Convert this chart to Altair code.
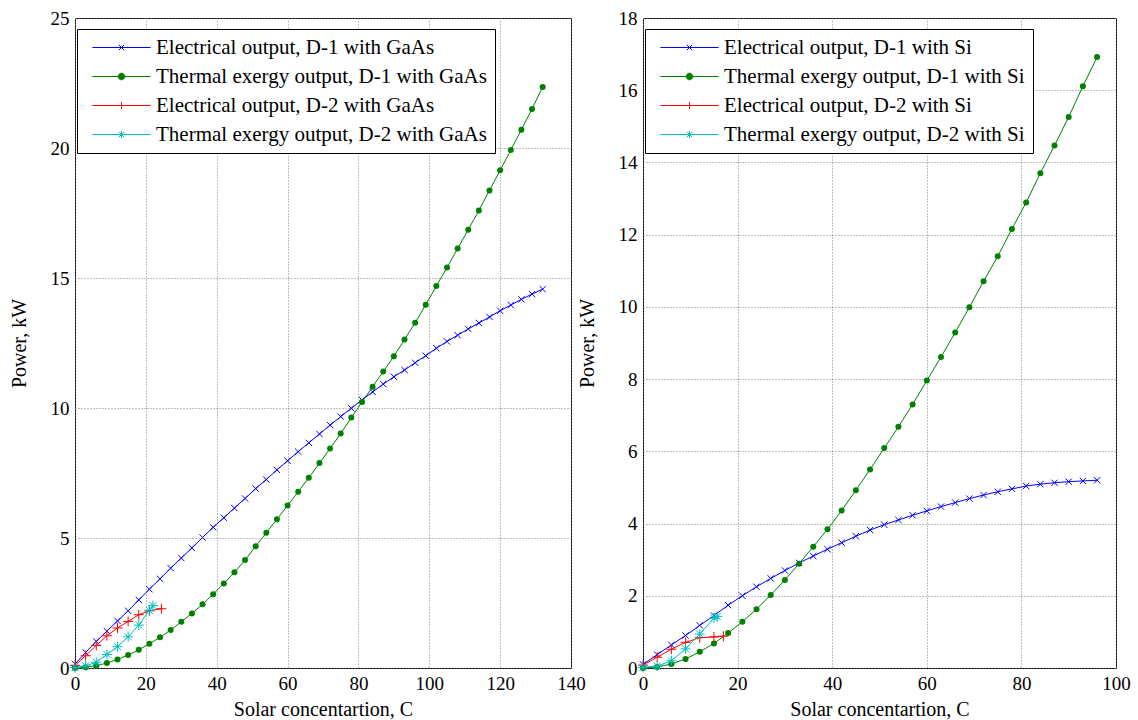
import altair as alt
import pandas as pd

FONT = "Liberation Serif"

# ---------------- data: GaAs panel ----------------
C_D1_GAAS = [0, 3, 6, 9, 12, 15, 18, 21, 24, 27, 30, 33, 36, 39, 42, 45, 48, 51, 54, 57,
             60, 63, 66, 69, 72, 75, 78, 81, 84, 87, 90, 93, 96, 99, 102, 105, 108, 111,
             114, 117, 120, 123, 126, 129, 132]
ELEC_D1_GAAS = [0.15, 0.6, 1.02, 1.42, 1.81, 2.2, 2.62, 3.03, 3.43, 3.84, 4.23, 4.62, 5.02,
                5.41, 5.78, 6.15, 6.52, 6.9, 7.25, 7.62, 7.97, 8.32, 8.66, 9.0, 9.34, 9.67,
                9.99, 10.31, 10.62, 10.92, 11.2, 11.46, 11.74, 12.01, 12.3, 12.56, 12.8,
                13.04, 13.27, 13.5, 13.74, 13.96, 14.18, 14.38, 14.57]
THERM_D1_GAAS = [0.0, 0.03, 0.09, 0.19, 0.33, 0.5, 0.7, 0.93, 1.18, 1.46, 1.78, 2.1, 2.45,
                 2.84, 3.25, 3.68, 4.15, 4.68, 5.2, 5.72, 6.25, 6.78, 7.32, 7.88, 8.44, 9.02,
                 9.63, 10.23, 10.82, 11.4, 11.99, 12.63, 13.28, 13.97, 14.69, 15.4, 16.13,
                 16.86, 17.6, 18.37, 19.14, 19.92, 20.7, 21.5, 22.35]
C_D2_GAAS_ELEC = [0, 3, 6, 9, 12, 15, 18, 21, 24.4]
ELEC_D2_GAAS = [0.1, 0.47, 0.87, 1.24, 1.54, 1.79, 2.05, 2.2, 2.28]
C_D2_GAAS_THERM = [0, 3, 6, 9, 12, 15, 18, 21, 22]
THERM_D2_GAAS = [0.02, 0.08, 0.22, 0.52, 0.82, 1.2, 1.65, 2.22, 2.4]

LABELS_GAAS = ["Electrical output, D-1 with GaAs",
               "Thermal exergy output, D-1 with GaAs",
               "Electrical output, D-2 with GaAs",
               "Thermal exergy output, D-2 with GaAs"]
X_TICKS_GAAS = [0, 20, 40, 60, 80, 100, 120, 140]
Y_TICKS_GAAS = [0, 5, 10, 15, 20, 25]

# ---------------- data: Si panel ----------------
C_D1_SI = [0, 3, 6, 9, 12, 15, 18, 21, 24, 27, 30, 33, 36, 39, 42, 45, 48, 51, 54, 57,
           60, 63, 66, 69, 72, 75, 78, 81, 84, 87, 90, 93, 96]
ELEC_D1_SI = [0.1, 0.37, 0.64, 0.9, 1.18, 1.45, 1.74, 2.0, 2.25, 2.48, 2.7, 2.91, 3.1,
              3.29, 3.47, 3.65, 3.82, 3.97, 4.1, 4.23, 4.35, 4.47, 4.58, 4.69, 4.79, 4.88,
              4.96, 5.04, 5.09, 5.13, 5.16, 5.18, 5.2]
THERM_D1_SI = [0.0, 0.03, 0.11, 0.25, 0.45, 0.68, 0.97, 1.28, 1.63, 2.02, 2.44, 2.89, 3.36,
               3.84, 4.36, 4.92, 5.5, 6.09, 6.68, 7.3, 7.96, 8.61, 9.29, 9.99, 10.71, 11.4,
               12.16, 12.89, 13.7, 14.47, 15.26, 16.11, 16.92]
C_D2_SI_ELEC = [0, 3, 6, 9, 12, 15, 17]
ELEC_D2_SI = [0.08, 0.3, 0.52, 0.71, 0.84, 0.86, 0.88]
C_D2_SI_THERM = [0, 3, 6, 9, 12, 15, 15.7]
THERM_D2_SI = [0.02, 0.05, 0.2, 0.53, 0.94, 1.38, 1.43]

LABELS_SI = ["Electrical output, D-1 with Si",
             "Thermal exergy output, D-1 with Si",
             "Electrical output, D-2 with Si",
             "Thermal exergy output, D-2 with Si"]
X_TICKS_SI = [0, 20, 40, 60, 80, 100]
Y_TICKS_SI = [0, 2, 4, 6, 8, 10, 12, 14, 16, 18]

# ---------------- styles ----------------
COLORS = ["#0000ff", "#008000", "#ff0000", "#00bfbf"]
X_PATH = "M-1,-1L1,1M-1,1L1,-1"
PLUS_PATH = "M-1,0L1,0M0,-1L0,1"
STAR_PATH = "M-1,0L1,0M0,-1L0,1M-0.7,-0.7L0.7,0.7M-0.7,0.7L0.7,-0.7"
STYLES = [
    dict(color=COLORS[0], shape=X_PATH, size=40, filled=False),
    dict(color=COLORS[1], shape="circle", size=36, filled=True),
    dict(color=COLORS[2], shape=PLUS_PATH, size=100, filled=False),
    dict(color=COLORS[3], shape=STAR_PATH, size=100, filled=False),
]

LINE = "M-9.7,0L9.7,0"
LEGEND_SHAPES = [
    LINE + "M-0.9,-0.9L0.9,0.9M-0.9,0.9L0.9,-0.9",
    LINE + "M-1.1,0A1.1,1.1 0 1,0 1.1,0A1.1,1.1 0 1,0 -1.1,0Z",
    LINE + "M0,-1.2L0,1.2",
    LINE + "M0,-1.2L0,1.2M-0.85,-0.85L0.85,0.85M-0.85,0.85L0.85,-0.85",
]


def panel(series, labels, xticks, yticks, width):
    x = alt.X("C:Q", scale=alt.Scale(domain=[xticks[0], xticks[-1]], nice=False, zero=False),
              axis=alt.Axis(values=xticks, title="Solar concentartion, C", format="d"))
    y = alt.Y("P:Q", scale=alt.Scale(domain=[yticks[0], yticks[-1]], nice=False, zero=False),
              axis=alt.Axis(values=yticks, title="Power, kW", format="d"))
    layers = []
    for (cs, ps), st in zip(series, STYLES):
        df = pd.DataFrame({"C": cs, "P": ps})
        base = alt.Chart(df).encode(x=x, y=y)
        layers.append(base.mark_line(color=st["color"], strokeWidth=1))
        layers.append(base.mark_point(shape=st["shape"], size=st["size"], color=st["color"],
                                      filled=st["filled"], strokeWidth=1, opacity=1))
    legend = alt.Legend(
        title=None, orient="none", legendX=2, legendY=11,
        fillColor="white", strokeColor="black", padding=8, cornerRadius=0,
        labelFont=FONT, labelFontSize=21, labelColor="black", labelLimit=600,
        symbolSize=36, symbolStrokeWidth=1, symbolOpacity=1,
        symbolOffset=26, labelOffset=24, rowPadding=7,
    )
    leg_df = pd.DataFrame({"series": labels})
    leg = alt.Chart(leg_df).mark_point(filled=True, opacity=0, size=36).encode(
        color=alt.Color("series:N", scale=alt.Scale(domain=labels, range=COLORS), legend=legend),
        stroke=alt.Stroke("series:N", scale=alt.Scale(domain=labels, range=COLORS), legend=legend),
        shape=alt.Shape("series:N", scale=alt.Scale(domain=labels, range=LEGEND_SHAPES), legend=legend),
    )
    return alt.layer(*layers, leg).properties(width=width, height=650)


left = panel([(C_D1_GAAS, ELEC_D1_GAAS), (C_D1_GAAS, THERM_D1_GAAS),
              (C_D2_GAAS_ELEC, ELEC_D2_GAAS), (C_D2_GAAS_THERM, THERM_D2_GAAS)],
             LABELS_GAAS, X_TICKS_GAAS, Y_TICKS_GAAS, 496)
right = panel([(C_D1_SI, ELEC_D1_SI), (C_D1_SI, THERM_D1_SI),
               (C_D2_SI_ELEC, ELEC_D2_SI), (C_D2_SI_THERM, THERM_D2_SI)],
              LABELS_SI, X_TICKS_SI, Y_TICKS_SI, 473)

chart = (
    alt.hconcat(left, right, spacing=72, bounds="flush")
    .resolve_scale(color="independent", stroke="independent", shape="independent")
    .properties(padding={"left": 8, "top": 8, "right": 0, "bottom": 0}, background="white")
    .configure_view(stroke="black", strokeWidth=1)
    .configure_axis(labelFont=FONT, titleFont=FONT, labelFontSize=19, titleFontSize=20,
                    titleFontWeight="normal", labelColor="black", titleColor="black",
                    grid=True, gridColor="#808080", gridDash=[1, 2], gridWidth=1,
                    domain=False, ticks=False, labelPadding=6, labelFlush=False)
    .configure_axisY(titlePadding=21)
    .configure_axisX(titlePadding=6)
)

chart.save("out.html", embed_options={"renderer": "svg", "actions": False})
